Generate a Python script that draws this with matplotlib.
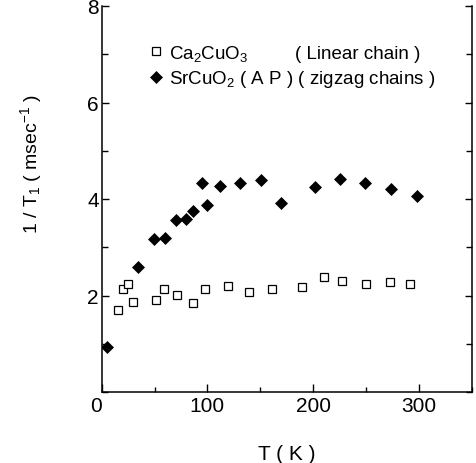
import matplotlib
matplotlib.use('Agg')
import matplotlib.pyplot as plt
from matplotlib.ticker import MultipleLocator

plt.rcParams['font.family'] = ['Liberation Sans', 'DejaVu Sans']
plt.rcParams['mathtext.fontset'] = 'custom'
plt.rcParams['mathtext.rm'] = 'Liberation Sans'
plt.rcParams['mathtext.it'] = 'Liberation Sans'

# Ca2CuO3 (linear chain)
ca_T = [15.7, 20.4, 24.5, 29.9, 51, 59.4, 70.8, 86.5, 97.8, 119.8, 139.3,
        160.7, 189.3, 210, 227, 249.7, 273, 291.5]
ca_rate = [1.70, 2.14, 2.23, 1.86, 1.91, 2.14, 2.02, 1.85, 2.13, 2.19, 2.08,
           2.13, 2.17, 2.38, 2.31, 2.23, 2.29, 2.23]

# SrCuO2 (AP) (zigzag chains)
sr_T = [4.7, 34, 49.7, 59.7, 70, 79.6, 86.5, 94.7, 99.4, 112, 131, 151,
        170, 201.6, 225, 248.7, 273.6, 298.7]
sr_rate = [0.93, 2.6, 3.17, 3.19, 3.57, 3.59, 3.76, 4.34, 3.88, 4.26, 4.34,
           4.39, 3.91, 4.24, 4.41, 4.34, 4.21, 4.07]

fig = plt.figure(figsize=(4.76, 4.64), dpi=100)
ax = fig.add_axes([101.7 / 476, 1 - 393 / 464, 370 / 476, 386 / 464])

ax.plot(ca_T, ca_rate, 's', ms=5.6, mfc='white', mec='black', mew=0.9,
        label='Ca$_2$CuO$_3$')
ax.plot(sr_T, sr_rate, 'D', ms=6, mfc='black', mec='black', mew=0.5,
        label='SrCuO$_2$ ( A P ) ( zigzag chains )')

ax.set_xlim(0, 350)
ax.set_ylim(0, 8)
ax.xaxis.set_major_locator(MultipleLocator(100))
ax.xaxis.set_minor_locator(MultipleLocator(50))
ax.yaxis.set_major_locator(MultipleLocator(2))
ax.yaxis.set_minor_locator(MultipleLocator(1))
ax.set_xticks([0, 100, 200, 300])
ax.set_xticklabels(['0', '100', '200', '300'])
ax.set_yticks([2, 4, 6, 8])
ax.get_xticklabels()[0].set_horizontalalignment('right')

ax.tick_params(axis='both', which='both', direction='in', labelsize=15,
               width=1)
ax.tick_params(axis='x', which='major', length=6, pad=3)
ax.tick_params(axis='x', which='minor', length=3.8)
ax.tick_params(axis='y', which='major', length=5, pad=2, right=True)
ax.tick_params(axis='y', which='minor', length=4.5, right=True)

ax.spines['top'].set_visible(False)
for s in ['left', 'right', 'bottom']:
    ax.spines[s].set_linewidth(1.1)

ax.set_xlabel('T ( K )', fontsize=15, labelpad=21)
ax.set_ylabel('1 / T$_1$ ( msec$^{-1}$ )', fontsize=14)
ax.yaxis.set_label_coords(-0.155, 0.593)

ax.legend(loc='upper left', bbox_to_anchor=(0.10, 0.924), frameon=False,
          fontsize=13.5, handletextpad=0.2, handlelength=1.0,
          labelspacing=0.3, borderaxespad=0)
ax.text(0.523, 0.878, '( Linear chain )', transform=ax.transAxes,
        fontsize=13.5, va='center', ha='left')

fig.savefig('out.png', dpi=100)
